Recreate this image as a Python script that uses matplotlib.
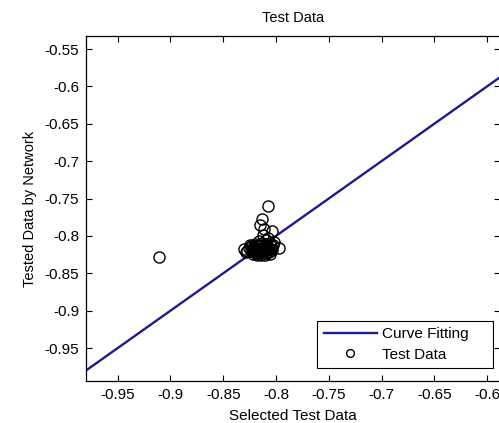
import matplotlib
matplotlib.use("Agg")
import matplotlib.pyplot as plt
import numpy as np

plt.rcParams['font.family'] = ['Liberation Sans', 'DejaVu Sans']

# Data
fit_x = [-0.98, -0.5876]
fit_y = [-0.98, -0.5876]

test_x = [-0.911,
          -0.808, -0.813, -0.815, -0.811, -0.804, -0.812, -0.808, -0.797, -0.802,
          -0.830, -0.828, -0.826, -0.824, -0.822, -0.821, -0.819, -0.818, -0.817, -0.816,
          -0.815, -0.814, -0.813, -0.812, -0.811, -0.810, -0.809, -0.808, -0.807, -0.806,
          -0.805, -0.804, -0.803, -0.820, -0.825, -0.816, -0.809, -0.822, -0.813, -0.806,
          -0.827, -0.823, -0.819, -0.815, -0.811, -0.807, -0.818, -0.814, -0.810, -0.821,
          -0.817, -0.812, -0.808, -0.824, -0.816, -0.810, -0.805, -0.820, -0.814, -0.809]
test_y = [-0.828,
          -0.760, -0.777, -0.786, -0.791, -0.794, -0.799, -0.803, -0.816, -0.808,
          -0.818, -0.822, -0.816, -0.820, -0.824, -0.815, -0.819, -0.823, -0.812, -0.817,
          -0.821, -0.825, -0.810, -0.815, -0.819, -0.823, -0.813, -0.817, -0.821, -0.809,
          -0.814, -0.819, -0.812, -0.811, -0.812, -0.807, -0.806, -0.819, -0.822, -0.824,
          -0.820, -0.817, -0.821, -0.818, -0.816, -0.818, -0.826, -0.819, -0.820, -0.822,
          -0.814, -0.818, -0.815, -0.814, -0.824, -0.826, -0.817, -0.816, -0.813, -0.811]

xticks = [-0.95, -0.9, -0.85, -0.8, -0.75, -0.7, -0.65, -0.6]
xticklabels = ['-0.95', '-0.9', '-0.85', '-0.8', '-0.75', '-0.7', '-0.65', '-0.6']
yticks = [-0.95, -0.9, -0.85, -0.8, -0.75, -0.7, -0.65, -0.6, -0.55]
yticklabels = ['-0.95', '-0.9', '-0.85', '-0.8', '-0.75', '-0.7', '-0.65', '-0.6', '-0.55']

fig = plt.figure(figsize=(4.99, 4.23), dpi=100)
ax = fig.add_axes([0.1723, 0.0993, 0.8300, 0.8156])

ax.plot(fit_x, fit_y, color='#1c1c8c', linewidth=1.7, label='Curve Fitting')
ax.plot(test_x, test_y, linestyle='none', marker='o', markersize=8,
        markerfacecolor='none', markeredgecolor='black', markeredgewidth=1.0,
        label='Test Data')

ax.set_xlim(-0.98, -0.5876)
ax.set_ylim(-0.994, -0.5326)
ax.set_xticks(xticks)
ax.set_xticklabels(xticklabels)
ax.set_yticks(yticks)
ax.set_yticklabels(yticklabels)
ax.tick_params(direction='in', top=True, right=True, labelsize=11, length=4, width=0.8, pad=5)
for s in ax.spines.values():
    s.set_linewidth(0.9)

ax.set_title('Test Data', fontsize=10.5, pad=10)
ax.set_xlabel('Selected Test Data', fontsize=11, labelpad=5)
ax.set_ylabel('Tested Data by Network', fontsize=10.5, labelpad=5)

leg = ax.legend(loc='lower left', bbox_to_anchor=(0.559, 0.038, 0.424, 0.148), mode='expand',
                fontsize=11, frameon=True, fancybox=False, edgecolor='black', framealpha=1,
                handlelength=3.5, borderpad=0.4, labelspacing=0.45, handletextpad=0.33,
                markerscale=0.7, borderaxespad=0.0)
leg.get_frame().set_linewidth(0.8)

fig.savefig('out.png', dpi=100)
